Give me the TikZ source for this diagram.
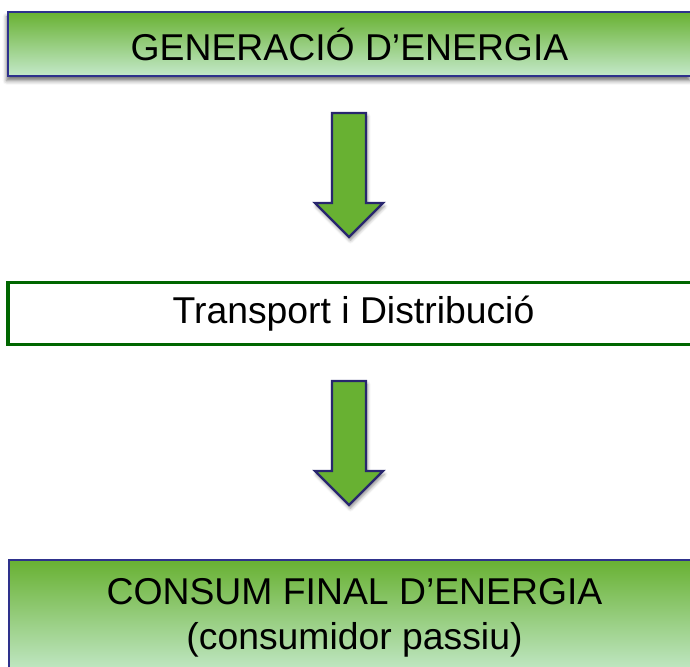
\documentclass[tikz,border=0pt]{standalone}
\usepackage{fontspec}
\setmainfont{Liberation Sans}
\usetikzlibrary{shadows.blur}
\definecolor{leafgreen}{RGB}{104,177,50}
\definecolor{palegreen}{RGB}{196,233,202}
\definecolor{navyline}{RGB}{46,49,140}
\definecolor{arrownavy}{RGB}{40,38,110}
\definecolor{darkgreen}{RGB}{0,102,0}
\begin{document}
\begin{tikzpicture}[x=0.75pt,y=-0.75pt,
    font=\fontsize{28pt}{33.75pt}\selectfont,
    greenbox/.style={draw=navyline,line width=1.5pt,
      top color=leafgreen,bottom color=palegreen,
      inner sep=0pt,align=center},
    blockarrow/.style={draw=arrownavy,line width=1.8pt,
      fill=leafgreen,line join=miter,
      blur shadow={shadow xshift=1pt,shadow yshift=-2.5pt,
        shadow blur radius=2.5pt,shadow opacity=45}}]
  \useasboundingbox (0,0) rectangle (690,667);
  \clip (0,0) rectangle (690,667);
  \node[greenbox,minimum width=512.25pt,minimum height=48pt,
    blur shadow={shadow xshift=-1pt,shadow yshift=-3.5pt,
      shadow blur radius=3pt,shadow opacity=55}]
    (gen) at (349.5,44) {GENERACIÓ D’ENERGIA};
  \node[draw=darkgreen,line width=2.5pt,fill=white,
    minimum width=518.25pt,minimum height=46.5pt,inner sep=0pt]
    (trans) at (353.5,313.5) {Transport i Distribució};
  \node[greenbox,anchor=north,minimum width=518.25pt,
    minimum height=86.25pt]
    (consum) at (354.5,559) {CONSUM FINAL D’ENERGIA\\(consumidor passiu)};
  \foreach \y in {113,381}{
    \draw[blockarrow] (332,\y) -- ++(34,0) -- ++(0,90)
      -- ++(17,0) -- ++(-34,34) -- ++(-34,-34)
      -- ++(17,0) -- cycle;
  }
\end{tikzpicture}
\end{document}
